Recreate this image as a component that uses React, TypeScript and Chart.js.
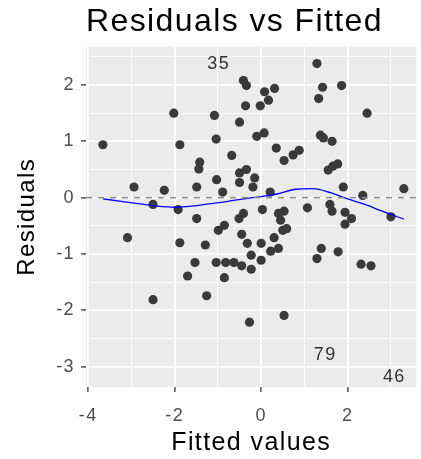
import React, { useEffect, useRef } from "react";
import { Chart, registerables } from "chart.js";

Chart.register(...registerables);

// Fitted values (x) and residuals (y)
const fitted = [
  -3.66, -2.02, -1.88, -2.94, -2.24, -2.50, -1.92, -1.49, -1.44, -1.42,
  -1.49, -0.41, -0.34, 0.08, 0.31, 0.17, -0.02, -0.36, -1.08, -0.50,
  -1.04, -0.10, 0.07, 0.35, 0.53, 0.74, 0.88, -0.68, -0.50, -0.34,
  -0.15, -0.19, -0.50, -1.03, -0.89, 0.21, 0.03, -0.41, -0.51, 0.40,
  0.53, 1.07, 1.29, 1.42, 1.86, 1.33, 2.45, 1.37, 1.44, 1.64,
  1.55, 1.66, 1.77, 1.90, 2.35, 3.30, 1.59, 1.64, 1.94, 2.09,
  3.00, 1.94, -3.09, -1.88, -1.53, -1.70, -2.50, 0.45, -0.85, -0.99,
  -1.29, -0.45, -0.32, 0.00, 0.30, 0.50, 0.59, 0.22, 0.40, -0.23,
  0.00, -1.04, -0.82, -0.63, -0.45, -0.23, -0.85, -1.26, -0.27, 0.53,
  1.39, 1.29, 1.78, 2.31, 2.54,
];
const residuals = [
  0.94, 1.50, 0.94, 0.19, 0.13, -0.12, -0.21, 0.19, 0.51, 0.63,
  -0.37, 2.08, 1.99, 1.88, 1.94, 1.73, 1.63, 1.63, 1.46, 1.34,
  1.04, 1.09, 1.15, 0.88, 0.66, 0.76, 0.84, 0.75, 0.44, 0.50,
  0.35, 0.19, 0.27, 0.32, 0.10, 0.10, -0.21, -0.28, -0.37, -0.28,
  -0.24, -0.18, 2.38, 1.96, 1.99, 1.76, 1.50, 1.11, 1.06, 1.00,
  0.49, 0.56, 0.60, 0.19, 0.04, 0.16, -0.12, -0.24, -0.26, -0.37,
  -0.34, -0.47, -0.71, -0.80, -1.15, -1.39, -1.81, -0.40, -0.49, -0.58,
  -0.84, -0.65, -0.81, -0.81, -0.71, -0.58, -0.55, -0.95, -0.90, -1.02,
  -1.11, -1.15, -1.15, -1.15, -1.21, -1.27, -1.42, -1.74, -2.21, -2.09,
  -0.90, -1.08, -0.96, -1.18, -1.21,
];

// Smoother (loess) curve
const smoothX = [-3.66, -3.2, -2.8, -2.4, -2.0, -1.6, -1.2, -0.8, -0.4, 0.0, 0.4, 0.8, 1.2, 1.6, 2.0, 2.4, 2.8, 3.3];
const smoothY = [-0.02, -0.07, -0.11, -0.15, -0.17, -0.15, -0.11, -0.07, -0.02, 0.02, 0.07, 0.15, 0.16, 0.09, -0.02, -0.12, -0.24, -0.38];

// Labelled observations
const idLabels = ["35", "79", "46"];
const idX = [-0.98, 1.48, 3.08];
const idY = [2.37, -2.79, -3.19];

// Axis breaks
const xMajor = [-4, -2, 0, 2];
const xMinor = [-3, -1, 1, 3];
const yMajor = [-3, -2, -1, 0, 1, 2];
const yMinor = [-2.5, -1.5, -0.5, 0.5, 1.5, 2.5];
const xLimits = [-4.05, 3.59];
const yLimits = [-3.36, 2.68];

const FONT = "'Liberation Sans', Arial, sans-serif";

const panelPlugin = {
  id: "panelBg",
  beforeDraw(chart: any) {
    const { ctx, chartArea } = chart;
    (ctx as any).letterSpacing = "1.4px";
    ctx.save();
    ctx.fillStyle = "#ebebeb";
    ctx.fillRect(chartArea.left, chartArea.top, chartArea.right - chartArea.left, chartArea.bottom - chartArea.top);
    ctx.restore();
  },
};

const overlayPlugin = {
  id: "overlay",
  afterDatasetsDraw(chart: any) {
    const { ctx, chartArea, scales } = chart;
    const y0 = scales.y.getPixelForValue(0);
    ctx.save();
    ctx.beginPath();
    ctx.rect(chartArea.left, chartArea.top, chartArea.right - chartArea.left, chartArea.bottom - chartArea.top);
    ctx.clip();
    ctx.strokeStyle = "#8c8c8c";
    ctx.lineWidth = 1.5;
    ctx.setLineDash([6, 6]);
    ctx.beginPath();
    ctx.moveTo(chartArea.left, y0);
    ctx.lineTo(chartArea.right, y0);
    ctx.stroke();
    ctx.setLineDash([]);
    ctx.fillStyle = "#333333";
    ctx.font = `18px ${FONT}`;
    ctx.textAlign = "center";
    ctx.textBaseline = "middle";
    idLabels.forEach((t, i) => {
      ctx.fillText(t, scales.x.getPixelForValue(idX[i]), scales.y.getPixelForValue(idY[i]));
    });
    ctx.restore();
  },
};

export default function App() {
  const ref = useRef<HTMLCanvasElement | null>(null);

  useEffect(() => {
    if (!ref.current) return;
    const points = fitted.map((x, i) => ({ x, y: residuals[i] }));
    const smooth = smoothX.map((x, i) => ({ x, y: smoothY[i] }));
    const xGrid = [...xMajor, ...xMinor].sort((a, b) => a - b);
    const yGrid = [...yMajor, ...yMinor].sort((a, b) => a - b);

    const chart = new Chart(ref.current, {
      type: "scatter",
      data: {
        datasets: [
          {
            type: "line",
            data: smooth,
            borderColor: "#0000ff",
            borderWidth: 1.3,
            pointRadius: 0,
            fill: false,
            cubicInterpolationMode: "monotone",
            order: 0,
          } as any,
          {
            data: points,
            backgroundColor: "#3a3a3a",
            borderWidth: 0,
            pointRadius: 4.6,
            order: 1,
          },
        ],
      },
      options: {
        animation: false,
        responsive: false,
        events: [],
        layout: { padding: { left: 0, right: 1, top: 0, bottom: 0 } },
        plugins: {
          legend: { display: false },
          tooltip: { enabled: false },
          title: {
            display: true,
            text: "Residuals vs Fitted",
            align: "start",
            fullSize: false,
            color: "#000000",
            font: { family: FONT, size: 32, weight: "normal" },
            padding: { top: 2.5, bottom: 5.8 },
          },
        },
        scales: {
          x: {
            type: "linear",
            min: xLimits[0],
            max: xLimits[1],
            afterBuildTicks: (s: any) => {
              s.ticks = xGrid.map((v) => ({ value: v }));
            },
            afterFit: (s: any) => {
              s.height = 72;
            },
            border: { display: false },
            grid: {
              color: "#ffffff",
              lineWidth: (c: any) => (xMajor.includes(c.tick?.value) ? 1.8 : 0.9),
              tickColor: (c: any) => (xMajor.includes(c.tick?.value) ? "#333333" : "rgba(0,0,0,0)"),
              tickLength: 5,
              tickWidth: 1.3,
            },
            ticks: {
              autoSkip: false,
              maxRotation: 0,
              color: "#4d4d4d",
              padding: 13,
              font: { family: FONT, size: 18 },
              callback: (v: any) => (xMajor.includes(Number(v)) ? String(v) : ""),
            },
            title: {
              display: true,
              text: "Fitted values",
              color: "#000000",
              font: { family: FONT, size: 25 },
              padding: { top: 0, bottom: 1 },
            },
          },
          y: {
            type: "linear",
            min: yLimits[0],
            max: yLimits[1],
            afterBuildTicks: (s: any) => {
              s.ticks = yGrid.map((v) => ({ value: v }));
            },
            afterFit: (s: any) => {
              s.width = 86;
            },
            border: { display: false },
            grid: {
              color: "#ffffff",
              lineWidth: (c: any) => (yMajor.includes(c.tick?.value) ? 1.8 : 0.9),
              tickColor: (c: any) => (yMajor.includes(c.tick?.value) ? "#333333" : "rgba(0,0,0,0)"),
              tickLength: 5,
              tickWidth: 1.3,
            },
            ticks: {
              autoSkip: false,
              color: "#4d4d4d",
              padding: 6,
              font: { family: FONT, size: 18 },
              callback: (v: any) => (yMajor.includes(Number(v)) ? String(v) : ""),
            },
            title: {
              display: true,
              text: "Residuals",
              color: "#000000",
              font: { family: FONT, size: 24 },
              padding: { top: 13, bottom: 0 },
            },
          },
        },
      },
      plugins: [panelPlugin, overlayPlugin],
    });
    return () => chart.destroy();
  }, []);

  return (
    <div style={{ position: "fixed", left: 0, top: 0, width: 421, height: 459, background: "#ffffff" }}>
      <canvas ref={ref} width={421} height={459} style={{ display: "block" }} />
    </div>
  );
}
